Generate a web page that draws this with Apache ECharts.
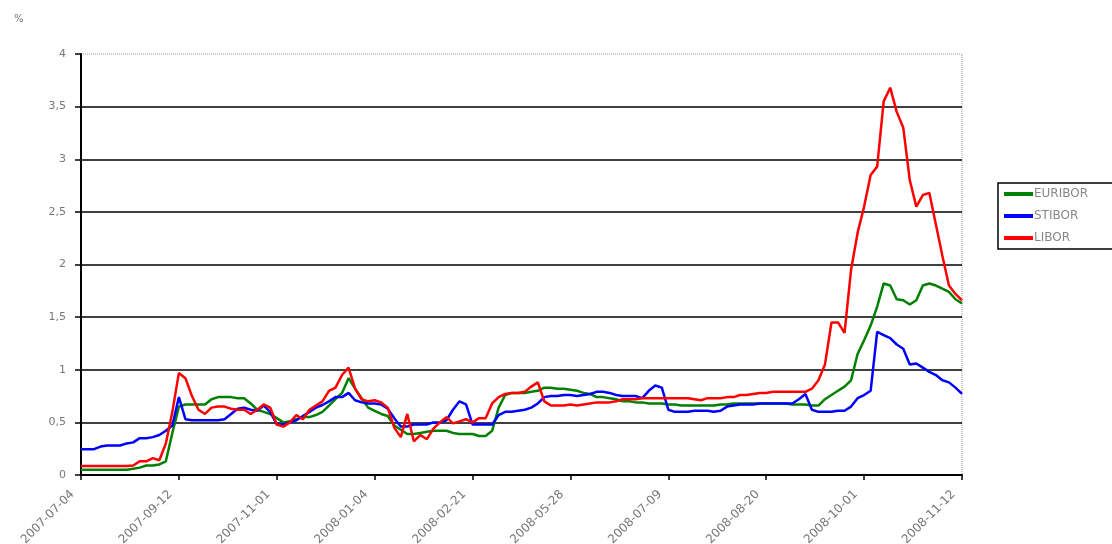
<!DOCTYPE html>
<html><head><meta charset="utf-8">
<script src="https://cdn.jsdelivr.net/npm/echarts@6/dist/echarts.min.js"></script>
<style>html,body{margin:0;padding:0;background:#fff}#c{width:1112px;height:544px}</style>
</head><body><div id="c"></div>
<script>
var tickLabels = ['2007-07-04','2007-09-12','2007-11-01','2008-01-04','2008-02-21','2008-05-28','2008-07-09','2008-08-20','2008-10-01','2008-11-12'];
var pointsPerTick = 15;
var seriesNames = ['EURIBOR','STIBOR','LIBOR'];
var euribor = [
.05,.05,.05,.05,.05,.05,.05,.05,.06,.07,
.09,.09,.1,.13,.4,.65,.67,.67,.67,.67,
.72,.74,.74,.74,.73,.73,.68,.62,.6,.58,
.54,.5,.51,.53,.55,.55,.57,.6,.66,.72,
.78,.92,.82,.73,.64,.61,.58,.56,.47,.43,
.39,.39,.4,.41,.42,.42,.42,.4,.39,.39,
.39,.37,.37,.42,.64,.76,.78,.78,.78,.79,
.8,.83,.83,.82,.82,.81,.8,.78,.77,.74,
.74,.73,.72,.7,.7,.69,.69,.68,.68,.68,
.67,.67,.66,.66,.66,.66,.66,.66,.67,.67,
.68,.68,.68,.68,.68,.68,.68,.68,.68,.67,
.67,.67,.66,.66,.72,.76,.8,.84,.9,1.15,
1.28,1.42,1.6,1.82,1.8,1.67,1.66,1.62,1.66,1.8,
1.82,1.8,1.77,1.74,1.67,1.63];
var stibor = [
.245,.245,.245,.27,.28,.28,.28,.3,.31,.35,
.35,.36,.38,.42,.47,.74,.53,.52,.52,.52,
.52,.52,.53,.58,.63,.64,.62,.61,.66,.6,
.48,.48,.5,.52,.56,.6,.64,.665,.7,.74,
.74,.78,.71,.69,.68,.68,.67,.63,.54,.46,
.46,.48,.48,.48,.5,.5,.52,.62,.7,.67,
.48,.48,.48,.48,.57,.6,.6,.61,.62,.64,
.68,.74,.75,.75,.76,.76,.75,.76,.77,.79,
.79,.78,.76,.75,.75,.75,.73,.8,.85,.83,
.62,.6,.6,.6,.61,.61,.61,.6,.61,.65,
.66,.67,.67,.67,.68,.68,.68,.68,.68,.68,
.72,.77,.62,.6,.6,.6,.61,.61,.65,.73,
.76,.8,1.36,1.33,1.3,1.24,1.2,1.05,1.06,1.02,
.98,.95,.9,.88,.83,.77];
var libor = [
.085,.085,.085,.085,.085,.085,.085,.085,.09,.13,
.13,.16,.14,.3,.6,.97,.92,.75,.62,.58,
.64,.65,.65,.63,.62,.62,.58,.62,.67,.64,
.48,.46,.5,.57,.53,.62,.66,.7,.8,.83,
.95,1.02,.82,.72,.7,.71,.69,.64,.45,.36,
.58,.32,.38,.34,.44,.5,.55,.49,.51,.53,
.5,.54,.54,.68,.74,.77,.78,.78,.79,.84,
.88,.7,.66,.66,.66,.67,.66,.67,.68,.69,
.69,.69,.7,.72,.72,.72,.73,.73,.73,.73,
.73,.73,.73,.73,.72,.71,.73,.73,.73,.74,
.74,.76,.76,.77,.78,.78,.79,.79,.79,.79,
.79,.79,.82,.9,1.05,1.45,1.45,1.35,1.95,2.3,
2.55,2.85,2.93,3.55,3.68,3.45,3.3,2.8,2.55,2.66,
2.68,2.38,2.08,1.8,1.72,1.66];
var colors = ['#008000','#0000ff','#ff0000'];

function pairs(arr){ return arr.map(function(v,i){ return [i,v]; }); }
var all = [euribor, stibor, libor];
var chart = echarts.init(document.getElementById('c'), null, {renderer:'canvas'});
var font = 'DejaVu Sans';
chart.setOption({
  animation:false,
  backgroundColor:'#fff',
  grid:{left:81,right:150,top:54,bottom:69,containLabel:false,outerBoundsMode:'none',show:true,borderColor:'#999',borderWidth:1,borderType:'dotted',backgroundColor:'transparent'},
  graphic:[{type:'text',left:14,top:14,style:{text:'%',fill:'#777',font:'10px '+font}}],
  legend:{
    orient:'vertical',left:998,top:183,
    data:seriesNames,
    icon:'rect',itemWidth:29,itemHeight:4,itemGap:10,
    borderColor:'#000',borderWidth:1.5,padding:[5,30,5,6],
    textStyle:{color:'#888',fontFamily:font,fontSize:12,padding:[0,0,0,-4]}
  },
  xAxis:{
    type:'value',min:0,max:(tickLabels.length-1)*pointsPerTick,interval:pointsPerTick,
    splitLine:{show:false},
    axisLine:{show:true,onZero:false,lineStyle:{color:'#000',width:2}},
    axisTick:{show:true,length:5,lineStyle:{color:'#000',width:1.5}},
    axisLabel:{rotate:45,color:'#777',fontFamily:font,fontSize:12,margin:9,padding:[0,12,0,0],showMinLabel:true,showMaxLabel:true,
      formatter:function(v){ return tickLabels[Math.round(v/pointsPerTick)] || ''; }}
  },
  yAxis:{
    type:'value',min:0,max:4,interval:0.5,
    axisLine:{show:true,lineStyle:{color:'#000',width:2}},
    axisTick:{show:true,length:6,lineStyle:{color:'#000',width:1.5}},
    splitLine:{show:true,showMinLine:false,showMaxLine:false,lineStyle:{color:'#000',width:1.5}},
    axisLabel:{color:'#777',fontFamily:font,fontSize:11,margin:15,
      formatter:function(v){ return String(v).replace('.',','); }}
  },
  series: seriesNames.map(function(n,k){
    return {name:n,type:'line',data:pairs(all[k]),showSymbol:false,symbol:'none',
      lineStyle:{color:colors[k],width:2.5},itemStyle:{color:colors[k]},z:2+k};
  })
});
</script></body></html>
